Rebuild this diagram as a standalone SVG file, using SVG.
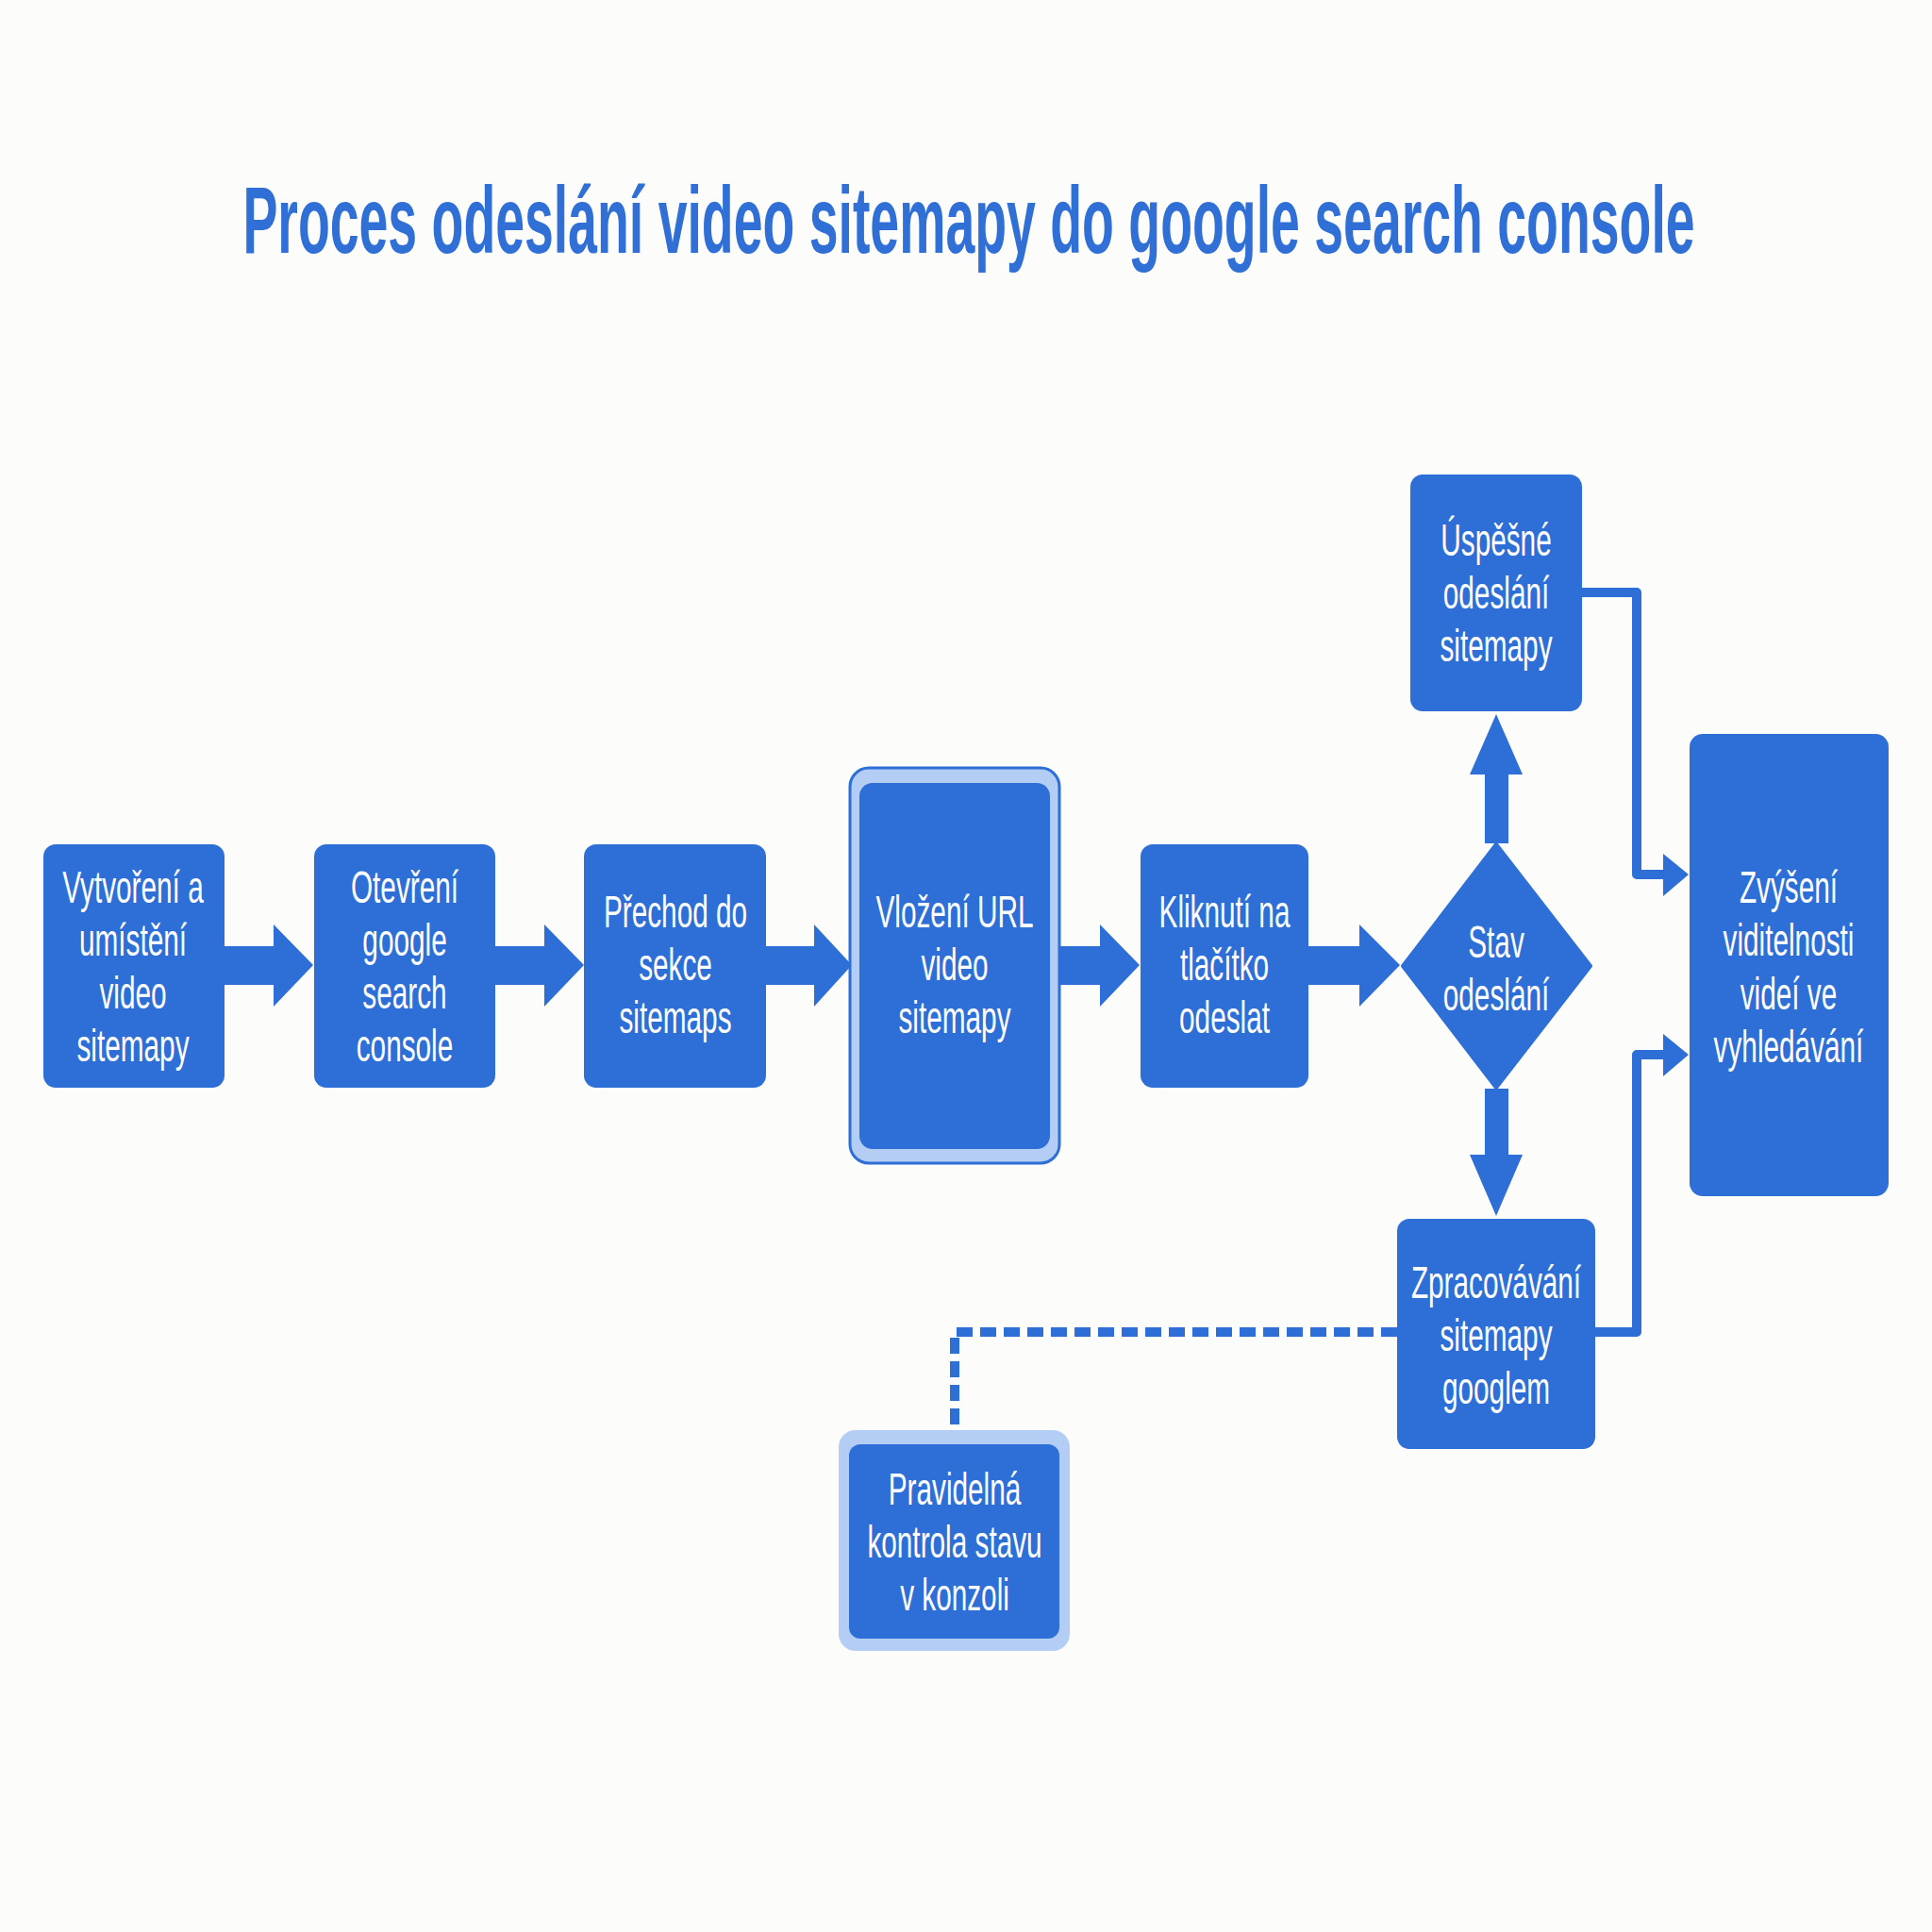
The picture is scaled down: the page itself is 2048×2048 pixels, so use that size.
<svg xmlns="http://www.w3.org/2000/svg" width="2048" height="2048" viewBox="0 0 2048 2048">
  <style>
    .bg { fill: #fcfcfa; }
    .title { font-family: "Liberation Sans", Arial, sans-serif; font-weight: bold; font-size: 100px; fill: #2f6fd6; text-anchor: middle; }
    .node { fill: #2d6fd6; }
    .ring { fill: #b3cdf4; }
    .ring-edge { fill: #b3cdf4; stroke: #2d6fd6; stroke-width: 3; }
    .label { font-family: "Liberation Sans", Arial, sans-serif; font-size: 48px; fill: #ffffff; text-anchor: middle; }
    .block { fill: #2d6fd6; }
    .line { fill: none; stroke: #2d6fd6; stroke-width: 10; stroke-linejoin: round; }
    .dash { fill: none; stroke: #2d6fd6; stroke-width: 10; stroke-dasharray: 17 8; }
    .head { fill: #2d6fd6; }
  </style>

  <rect class="bg" x="0" y="0" width="2048" height="2048"/>

  <!-- condensed heading -->
  <g transform="translate(1027,0) scale(0.554,1)">
    <text class="title" x="0" y="268">Proces odeslání video sitemapy do google search console</text>
  </g>

  <!-- connectors -->
  <g id="connectors">
    <!-- block arrows along the main row -->
    <polygon class="block" points="238,1003 290,1003 290,980 332,1023 290,1067 290,1044 238,1044"/>
    <polygon class="block" points="525,1003 577,1003 577,980 619,1023 577,1067 577,1044 525,1044"/>
    <polygon class="block" points="812,1003 863,1003 863,980 903,1023 863,1067 863,1044 812,1044"/>
    <polygon class="block" points="1113,1003 1166,1003 1166,980 1208,1023 1166,1067 1166,1044 1113,1044"/>
    <polygon class="block" points="1387,1003 1441,1003 1441,980 1484,1023 1441,1067 1441,1044 1387,1044"/>
    <!-- decision branches -->
    <polygon class="block" points="1574,894 1574,821 1558,821 1586,757 1614,821 1599,821 1599,894"/>
    <polygon class="block" points="1574,1154 1574,1224 1558,1224 1586,1289 1614,1224 1599,1224 1599,1154"/>
    <!-- elbow lines into the result node -->
    <polyline class="line" points="1677,628 1735,628 1735,927 1766,927"/>
    <polygon class="head" points="1763,905 1790,927 1763,950"/>
    <polyline class="line" points="1691,1412 1735,1412 1735,1118 1766,1118"/>
    <polygon class="head" points="1763,1096 1790,1118 1763,1141"/>
    <!-- dashed link to the monitoring step -->
    <polyline class="dash" points="1481,1412 1012,1412 1012,1517"/>
  </g>

  <!-- nodes -->
  <g id="n-vytvoreni">
    <rect class="node" x="46" y="895" width="192" height="258" rx="13"/>
    <g transform="translate(141,0) scale(0.62,1)">
      <text class="label" x="0" y="957">Vytvoření a</text>
      <text class="label" x="0" y="1013">umístění</text>
      <text class="label" x="0" y="1069">video</text>
      <text class="label" x="0" y="1125">sitemapy</text>
    </g>
  </g>

  <g id="n-otevreni">
    <rect class="node" x="333" y="895" width="192" height="258" rx="13"/>
    <g transform="translate(429,0) scale(0.62,1)">
      <text class="label" x="0" y="957">Otevření</text>
      <text class="label" x="0" y="1013">google</text>
      <text class="label" x="0" y="1069">search</text>
      <text class="label" x="0" y="1125">console</text>
    </g>
  </g>

  <g id="n-prechod">
    <rect class="node" x="619" y="895" width="193" height="258" rx="13"/>
    <g transform="translate(716,0) scale(0.62,1)">
      <text class="label" x="0" y="983">Přechod do</text>
      <text class="label" x="0" y="1039">sekce</text>
      <text class="label" x="0" y="1095">sitemaps</text>
    </g>
  </g>

  <g id="n-vlozeni">
    <rect class="ring-edge" x="901" y="814" width="222" height="419" rx="20"/>
    <rect class="node" x="911" y="830" width="202" height="388" rx="14"/>
    <g transform="translate(1012,0) scale(0.62,1)">
      <text class="label" x="0" y="983">Vložení URL</text>
      <text class="label" x="0" y="1039">video</text>
      <text class="label" x="0" y="1095">sitemapy</text>
    </g>
  </g>

  <g id="n-kliknuti">
    <rect class="node" x="1209" y="895" width="178" height="258" rx="13"/>
    <g transform="translate(1298,0) scale(0.62,1)">
      <text class="label" x="0" y="983">Kliknutí na</text>
      <text class="label" x="0" y="1039">tlačítko</text>
      <text class="label" x="0" y="1095">odeslat</text>
    </g>
  </g>

  <g id="n-stav">
    <polygon class="node" points="1586,895 1686,1024 1586,1153 1487,1024" stroke="#2d6fd6" stroke-width="4" stroke-linejoin="round"/>
    <g transform="translate(1586,0) scale(0.62,1)">
      <text class="label" x="0" y="1015">Stav</text>
      <text class="label" x="0" y="1071">odeslání</text>
    </g>
  </g>

  <g id="n-uspesne">
    <rect class="node" x="1495" y="503" width="182" height="251" rx="13"/>
    <g transform="translate(1586,0) scale(0.62,1)">
      <text class="label" x="0" y="589">Úspěšné</text>
      <text class="label" x="0" y="645">odeslání</text>
      <text class="label" x="0" y="701">sitemapy</text>
    </g>
  </g>

  <g id="n-zpracovavani">
    <rect class="node" x="1481" y="1292" width="210" height="244" rx="13"/>
    <g transform="translate(1586,0) scale(0.62,1)">
      <text class="label" x="0" y="1376">Zpracovávání</text>
      <text class="label" x="0" y="1432">sitemapy</text>
      <text class="label" x="0" y="1488">googlem</text>
    </g>
  </g>

  <g id="n-zvyseni">
    <rect class="node" x="1791" y="778" width="211" height="490" rx="14"/>
    <g transform="translate(1896,0) scale(0.62,1)">
      <text class="label" x="0" y="957">Zvýšení</text>
      <text class="label" x="0" y="1013">viditelnosti</text>
      <text class="label" x="0" y="1070">videí ve</text>
      <text class="label" x="0" y="1126">vyhledávání</text>
    </g>
  </g>

  <g id="n-pravidelna">
    <rect class="ring" x="889" y="1516" width="245" height="234" rx="18"/>
    <rect class="node" x="900" y="1531" width="223" height="206" rx="12"/>
    <g transform="translate(1012,0) scale(0.62,1)">
      <text class="label" x="0" y="1595">Pravidelná</text>
      <text class="label" x="0" y="1651">kontrola stavu</text>
      <text class="label" x="0" y="1707">v konzoli</text>
    </g>
  </g>
</svg>
